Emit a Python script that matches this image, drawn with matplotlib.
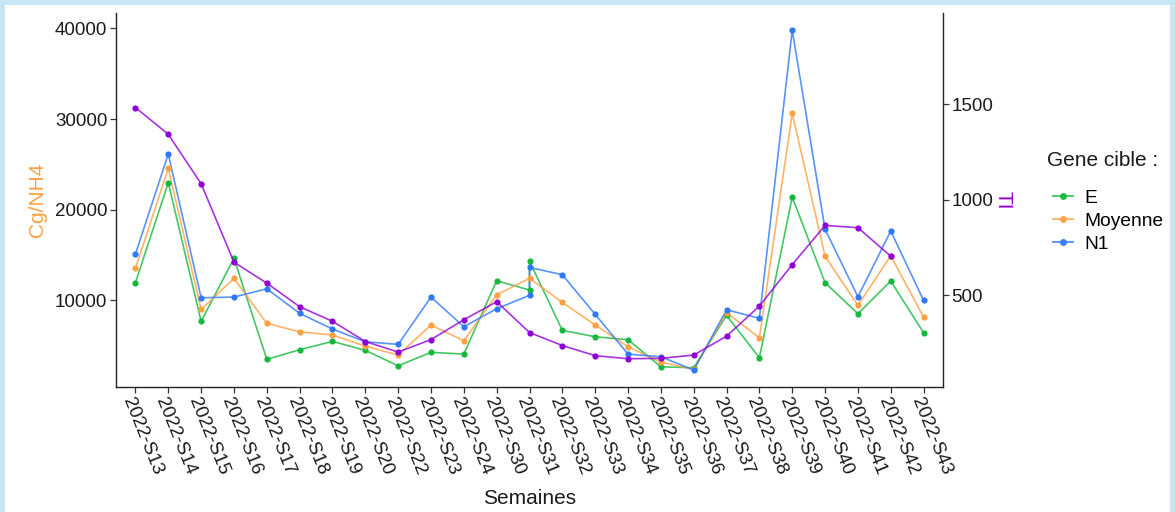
import matplotlib
matplotlib.use("Agg")
import matplotlib.pyplot as plt
from matplotlib.patches import Rectangle
from matplotlib.lines import Line2D
import numpy as np

plt.rcParams['font.family'] = ['Liberation Sans', 'DejaVu Sans']

# weeks on the x axis
weeks = ['2022-S13', '2022-S14', '2022-S15', '2022-S16', '2022-S17', '2022-S18',
         '2022-S19', '2022-S20', '2022-S22', '2022-S23', '2022-S24', '2022-S30',
         '2022-S31', '2022-S32', '2022-S33', '2022-S34', '2022-S35', '2022-S36',
         '2022-S37', '2022-S38', '2022-S39', '2022-S40', '2022-S41', '2022-S42',
         '2022-S43']

# E and N1 have two samples for week S31
rows_e_n1 = weeks[:13] + ['2022-S31'] + weeks[13:]

e_vals = [11950, 22980, 7690, 14640, 3500, 4560, 5480, 4490, 2790, 4270, 4080,
          12170, 11140, 14310, 6700, 5990, 5660, 2680, 2570, 8350, 3670, 21400,
          11950, 8530, 12130, 6430]
n1_vals = [15110, 26140, 10290, 10370, 11280, 8570, 6840, 5440, 5150, 10370, 7090,
           9080, 10560, 13640, 12830, 8460, 4080, 3780, 2320, 8970, 8020, 39790,
           17840, 10400, 17650, 10000]
moy_vals = [13530, 24560, 9010, 12430, 7470, 6540, 6180, 4960, 3970, 7280, 5550,
            10620, 12430, 9780, 7280, 4890, 3200, 2390, 8640, 5880, 30630, 14860,
            9450, 14920, 8160]
ti_vals = [1482, 1342, 1084, 674, 564, 441, 365, 259, 204, 269, 373, 467, 306,
           238, 185, 169, 171, 188, 287, 444, 661, 866, 854, 705, np.nan]

ti_scale = 21.1  # Cg/NH4 units per TI unit

col_e = '#14b83c'
col_moy = '#ffa043'
col_n1 = '#2f78f7'
col_ti = '#9000d6'

fig = plt.figure(figsize=(11.75, 5.12), dpi=100, facecolor='#c6e5f5')
fig.patches.append(Rectangle((5 / 1175, 0), 1165 / 1175, 1 - 5 / 512,
                             transform=fig.transFigure, facecolor='white',
                             edgecolor='none', zorder=-5))

ax = fig.add_axes([0.0985, 0.2441, 0.7043, 0.7299])
ax.set_facecolor('white')

pos = {w: i for i, w in enumerate(weeks)}
x_en = [pos[w] for w in rows_e_n1]
x_all = np.arange(len(weeks))

line_kw = dict(lw=1.2, alpha=0.8)
mark_kw = dict(s=20, zorder=3, linewidths=0)
for xs, ys, c in [(x_en, e_vals, col_e), (x_all, moy_vals, col_moy), (x_en, n1_vals, col_n1)]:
    ax.plot(xs, ys, color=c, **line_kw)
    ax.scatter(xs, ys, color=c, **mark_kw)

all_vals = np.concatenate([e_vals, n1_vals, moy_vals])
lo, hi = all_vals.min(), all_vals.max()
pad = 0.05 * (hi - lo)
ax.set_ylim(lo - pad, hi + pad)
ax.set_xlim(-0.6, len(weeks) - 0.4)

ax.set_yticks([10000, 20000, 30000, 40000])
ax.set_xticks(x_all)
ax.set_xticklabels(weeks, rotation=-68, ha='left', va='top', rotation_mode='anchor')

ax2 = ax.twinx()
ax2.set_ylim(ax.get_ylim()[0] / ti_scale, ax.get_ylim()[1] / ti_scale)
ax2.plot(x_all, ti_vals, color=col_ti, **line_kw)
ax2.scatter(x_all, ti_vals, color=col_ti, **mark_kw)
ax2.set_yticks([500, 1000, 1500])

for a in (ax, ax2):
    a.spines['top'].set_visible(False)
    for s in a.spines.values():
        s.set_linewidth(1.0)
        s.set_color('#222222')
    a.tick_params(labelsize=13.5, length=4, width=0.9, color='#333333',
                  labelcolor='#1a1a1a', pad=2)
ax2.spines['left'].set_visible(False)
ax2.spines['bottom'].set_visible(False)
ax.spines['right'].set_visible(False)

ax.set_xlabel('Semaines', fontsize=15, color='#1a1a1a', labelpad=8)
ax.set_ylabel('Cg/NH4', fontsize=15, color=col_moy, labelpad=6)
ax2.set_ylabel('TI', fontsize=15, color=col_ti, rotation=-90, labelpad=14)

fig.text(1047 / 1175, 1 - 160 / 512, 'Gene cible :', fontsize=15,
         color='#1a1a1a', ha='left', va='center')
handles = [Line2D([], [], color=c, marker='o', markersize=4, lw=1.2, alpha=0.9)
           for c in (col_e, col_moy, col_n1)]
leg = fig.legend(handles, ['E', 'Moyenne', 'N1'],
                 loc='upper left', bbox_to_anchor=(1040 / 1175, 1 - 176 / 512),
                 frameon=False, fontsize=13.8, handlelength=1.0,
                 handletextpad=0.6, labelspacing=0.3, borderpad=0.2)

fig.savefig('out.png', dpi=100, facecolor=fig.get_facecolor())
